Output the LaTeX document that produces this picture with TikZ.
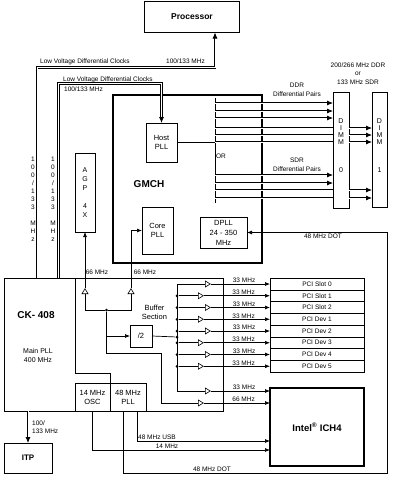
\documentclass[tikz,border=0pt]{standalone}
\usepackage{fontspec}
\setmainfont{Liberation Sans}
\usetikzlibrary{positioning,shapes.geometric,arrows.meta}

\begin{document}
\begin{tikzpicture}[x=1pt,y=-1pt,
	font=\fontsize{6.5}{7.5}\selectfont,
	line width=0.7pt,
	>={Latex[length=5pt,width=4pt]},
	blk/.style={
	draw,align=center,inner sep=0pt,outer sep=0pt,
	font=\fontsize{7.5}{9}\selectfont,
	},
	lbl/.style={inner sep=0.8pt,align=center,font=\fontsize{6.5}{8.5}\selectfont},
	bigname/.style={inner sep=0pt,font=\bfseries\fontsize{10}{12}\selectfont},
	vtext/.style={inner sep=0pt,align=center,font=\fontsize{6.5}{8}\selectfont},
	pcibox/.style={blk,line width=0.6pt,minimum width=94pt,minimum height=11.75pt,font=\fontsize{6.5}{7}\selectfont},
	buf/.style={draw,fill=white,line width=0.6pt,isosceles triangle,isosceles triangle stretches,
	inner sep=0pt,minimum width=6pt,minimum height=5pt},
	upbuf/.style={buf,shape border rotate=90},
	dot/.style={circle,fill,inner sep=0pt,minimum size=3pt},
	dpair/.style={double,double distance=1pt,line width=0.8pt},
	bigtip/.style={-{Latex[length=6pt,width=5pt]}},
	]
\useasboundingbox (0,0) rectangle (401,480);

% processor and memory controller
\node[blk,minimum width=95pt,minimum height=31pt,line width=1pt,
  font=\bfseries\fontsize{8.5}{10}\selectfont] (proc) at (192,17) {Processor};
\node[blk,minimum width=149pt,minimum height=168pt,line width=1.6pt] (gmch) at (187.5,179) {};
\node[bigname] (gmchtext) at (149,184) {GMCH};
\node[blk,minimum width=31pt,minimum height=39pt] (host) at (161.5,142.5) {Host\\PLL};
\node[blk,minimum width=31pt,minimum height=47pt] (core) at (157.5,230.5) {Core\\PLL};
\node[blk,minimum width=47pt,minimum height=31pt,font=\fontsize{7.5}{10}\selectfont] (dpll) at (223.5,232.5) {DPLL\\24 - 350\\MHz};
\coordinate (ortop) at (215,98);
\coordinate (orbot) at (215,203);
\node[lbl] (ortext) at (221,156) {OR};
\node[blk,minimum width=20pt,minimum height=79pt,font=\fontsize{7}{9}\selectfont] (agp) at (85,192.5) {A\\G\\P\\[9pt]4\\X};

% memory
\node[blk,minimum width=16pt,minimum height=116pt] (dimm0) at (341,150) {};
\node[vtext,font=\fontsize{7}{7}\selectfont] (dimm0text) at (341,145.5) {D\\I\\M\\M\\[21pt]0};
\node[blk,minimum width=15pt,minimum height=115pt] (dimm1) at (379.5,149.5) {};
\node[vtext,font=\fontsize{7}{7}\selectfont] (dimm1text) at (379.5,145.5) {D\\I\\M\\M\\[21pt]1};
\node[lbl] (memtext) at (358,73.5) {200/266 MHz DDR\\or\\133 MHz SDR};
\node[lbl] (ddrtext) at (297,90) {DDR\\Differential Pairs};
\node[lbl] (sdrtext) at (297,165) {SDR\\Differential Pairs};

% clock chip
\node[blk,minimum width=219pt,minimum height=133pt,line width=1pt] (ck) at (113.5,344.5) {};
\node[bigname] (cktext) at (36,315) {CK- 408};
\node[blk,draw=none,font=\fontsize{7}{9}\selectfont] (mainpll) at (38,355.5) {Main PLL\\400 MHz};
\node[blk,minimum width=35pt,minimum height=28pt] (osc) at (92.5,397) {14 MHz\\OSC};
\node[blk,minimum width=36pt,minimum height=28pt] (pll) at (128,397) {48 MHz\\PLL};
\node[blk,minimum width=22pt,minimum height=22pt] (half) at (141,336) {/2};
\node[blk,draw=none] (buftext) at (154.5,312) {Buffer\\Section};
\node[upbuf] (bufagp) at (85,292) {};
\node[upbuf] (bufcore) at (131,292) {};
\node[dot] (jn) at (106.5,310) {};

% pci
\node[pcibox] (pci0) at (317,284) {PCI Slot 0};
\node[pcibox,below=0pt of pci0] (pci1) {PCI Slot 1};
\node[pcibox,below=0pt of pci1] (pci2) {PCI Slot 2};
\node[pcibox,below=0pt of pci2] (pci3) {PCI Dev 1};
\node[pcibox,below=0pt of pci3] (pci4) {PCI Dev 2};
\node[pcibox,below=0pt of pci4] (pci5) {PCI Dev 3};
\node[pcibox,below=0pt of pci5] (pci6) {PCI Dev 4};
\node[pcibox,below=0pt of pci6] (pci7) {PCI Dev 5};

\node[blk,minimum width=94pt,minimum height=78pt,line width=1.6pt,
  font=\bfseries\fontsize{9.5}{11}\selectfont] (ich) at (317,427) {Intel\textsuperscript{®} ICH4};
\node[blk,minimum width=48pt,minimum height=30pt,line width=0.8pt,
  font=\bfseries\fontsize{8}{10}\selectfont] (itp) at (28,458) {ITP};

% buffers
\node[buf] (b0) at (207,284) {};
\node[buf] (b1) at (200,295.75) {};
\node[buf] (b2) at (207,307.5) {};
\node[buf] (b3) at (200,319.25) {};
\node[buf] (b4) at (207,331) {};
\node[buf] (b5) at (200,342.75) {};
\node[buf] (b6) at (207,354.5) {};
\node[buf] (b7) at (200,366.25) {};
\node[buf] (b8) at (207,391) {};
\node[buf] (b9) at (200,403) {};
\node[dot] (d1) at (177,295.75) {};
\node[dot] (d2) at (177,307.5) {};
\node[dot] (d3) at (177,319.25) {};
\node[dot] (d4) at (177,331) {};
\node[dot] (dhalf) at (177,337) {};
\node[dot] (d5) at (177,342.75) {};
\node[dot] (d6) at (177,354.5) {};
\node[dot] (d7) at (177,366.25) {};

% clocks to cpu and host
\draw[dpair,bigtip] ([xshift=33pt]ck.north west) -- ++(0,-210.5) -| (proc.south -| ortop);
\draw[dpair,bigtip] ([xshift=54.5pt]ck.north west) -- ++(0,-194.5) -| (host.north);
\node[lbl,anchor=base west] (lvdA) at (39,63) {Low Voltage Differential Clocks};
\node[lbl,anchor=base west] (mhzA) at (165,63) {100/133 MHz};
\node[lbl,anchor=base west] (lvdB) at (62,81) {Low Voltage Differential Clocks};
\node[lbl,anchor=base west] (mhzB) at (63,91.5) {100/133 MHz};
\node[vtext] (vclkA) at (33,199) {1\\0\\0\\/\\1\\3\\3\\[8pt]M\\H\\z};
\node[vtext] (vclkB) at (53,199) {1\\0\\0\\/\\1\\3\\3\\[8pt]M\\H\\z};

% host pll to dimms
\draw (ortop) -- (orbot);
\draw (host.east) -- (host.east -| ortop);
\draw[dpair,bigtip] (ortop |- 0,103) -- (dimm0.west |- 0,103);
\draw[dpair,bigtip] (ortop |- 0,111) -- (dimm0.west |- 0,111);
\draw[dpair,bigtip] (ortop |- 0,118) -- (dimm0.west |- 0,118);
\draw[dpair] (ortop |- 0,128) -- (dimm0.west |- 0,128);
\draw[dpair] (ortop |- 0,135) -- (dimm0.west |- 0,135);
\draw[dpair] (ortop |- 0,142) -- (dimm0.west |- 0,142);
\draw[dpair,bigtip] (dimm0.east |- 0,128) -- (dimm1.west |- 0,128);
\draw[dpair,bigtip] (dimm0.east |- 0,135) -- (dimm1.west |- 0,135);
\draw[dpair,bigtip] (dimm0.east |- 0,142) -- (dimm1.west |- 0,142);
\draw[dpair,bigtip] (ortop |- 0,175) -- (dimm0.west |- 0,175);
\draw[dpair,bigtip] (ortop |- 0,183) -- (dimm0.west |- 0,183);
\draw[dpair] (ortop |- 0,190) -- (dimm0.west |- 0,190);
\draw[dpair] (ortop |- 0,198) -- (dimm0.west |- 0,198);
\draw[dpair,bigtip] (dimm0.east |- 0,190) -- (dimm1.west |- 0,190);
\draw[dpair,bigtip] (dimm0.east |- 0,198) -- (dimm1.west |- 0,198);

% 66 MHz to agp and core
\draw ([xshift=71pt]ck.north west) -- ++(0,95) -| (osc.north east);
\draw (jn) -| (bufagp.south);
\draw (jn) -| (bufcore.south);
\draw[->] (bufagp.north) -- (agp.south);
\draw[->] (bufcore.north) |- (core.west);
\node[lbl] (agpmhz) at (97,272) {66 MHz};
\node[lbl] (coremhz) at (145,272) {66 MHz};
\draw (jn) |- (161,353) |- (b9.west);
\draw[->] (jn |- half.west) -- (half.west);
\draw (half.east) -- (dhalf);

% 33 MHz pci bus
\draw (b0.west) -| (b8.west -| d1) -- (b8.west);
\draw (d1) -- (b1.west);
\draw (d2) -- (b2.west);
\draw (d3) -- (b3.west);
\draw (d4) -- (b4.west);
\draw (d5) -- (b5.west);
\draw (d6) -- (b6.west);
\draw (d7) -- (b7.west);
\draw[->] (b0.east) -- node[lbl,above,pos=0.56] {33 MHz} (pci0.west);
\draw[->] (b1.east) -- node[lbl,above,pos=0.6] {33 MHz} (pci1.west);
\draw[->] (b2.east) -- node[lbl,above,pos=0.56] {33 MHz} (pci2.west);
\draw[->] (b3.east) -- node[lbl,above,pos=0.6] {33 MHz} (pci3.west);
\draw[->] (b4.east) -- node[lbl,above,pos=0.56] {33 MHz} (pci4.west);
\draw[->] (b5.east) -- node[lbl,above,pos=0.6] {33 MHz} (pci5.west);
\draw[->] (b6.east) -- node[lbl,above,pos=0.56] {33 MHz} (pci6.west);
\draw[->] (b7.east) -- node[lbl,above,pos=0.6] {33 MHz} (pci7.west);
\draw[->] (b8.east) -- node[lbl,above,pos=0.56] {33 MHz} (ich.west |- b8);
\draw[->] (b9.east) -- node[lbl,above,pos=0.6] {66 MHz} (ich.west |- b9);

% bottom clocks
\draw[dpair,bigtip] (ck.south -| itp.north) -- node[lbl,right=3pt,align=left] {100/\\133 MHz} (itp.north);
\draw[->] (osc.south) |- node[lbl,above,pos=0.71] {14 MHz} (ich.west |- 0,450);
\draw[->] ([xshift=9pt]pll.south) |- node[lbl,anchor=south west,pos=0.5] {48 MHz USB} (ich.west |- 0,441);
\draw[->] ([xshift=-5pt]pll.south) |- (dimm1.east |- 0,473) |- (dpll.east);
\node[lbl,above] (dotA) at (212,473) {48 MHz DOT};
\node[lbl,below] (dotB) at (323,232.5) {48 MHz DOT};

\end{tikzpicture}
\end{document}
